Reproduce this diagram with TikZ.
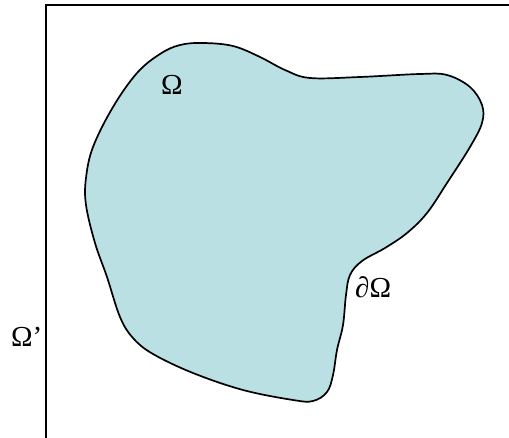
\documentclass[tikz,border=0pt]{standalone}
\usepackage{fontspec}
\setmainfont{Liberation Serif}
\definecolor{domfill}{RGB}{187,224,227}
\tikzset{
  frame/.style={line width=2pt, black},
  blobshape/.style={fill=domfill, draw=black, line width=1.7pt},
  lbl/.style={inner sep=0pt, anchor=base west, font=\fontsize{29}{32}\selectfont}
}
\begin{document}
\begin{tikzpicture}[x=1pt,y=-1pt]
\useasboundingbox (0,0) rectangle (509,438);
\draw[frame] (46,438) -- (46,5.5) -- (509,5.5);
\draw[blobshape] plot[smooth cycle, tension=0.6] coordinates {
(203,43) (233,46) (260,57) (285,70) (310,78) (360,77) (420,74) (447,75)
(470,87) (482,105) (482,123) (470,147) (447,183) (427,213) (407,233)
(385,248) (362,261) (350,275) (346,295) (343,325) (337,350) (333,375)
(327,392) (313,401) (293,400) (243,390) (193,373) (153,354) (133,338)
(120,317) (107,277) (95,243) (86,205) (86,178) (93,147) (113,107)
(137,73) (160,54) (180,45)};
\node[lbl] (omega) at (161,95) {Ω};
\node[lbl] (boundary) at (355,298) {∂Ω};
\node[lbl] (outer) at (11,347) {Ω’};
\end{tikzpicture}
\end{document}
